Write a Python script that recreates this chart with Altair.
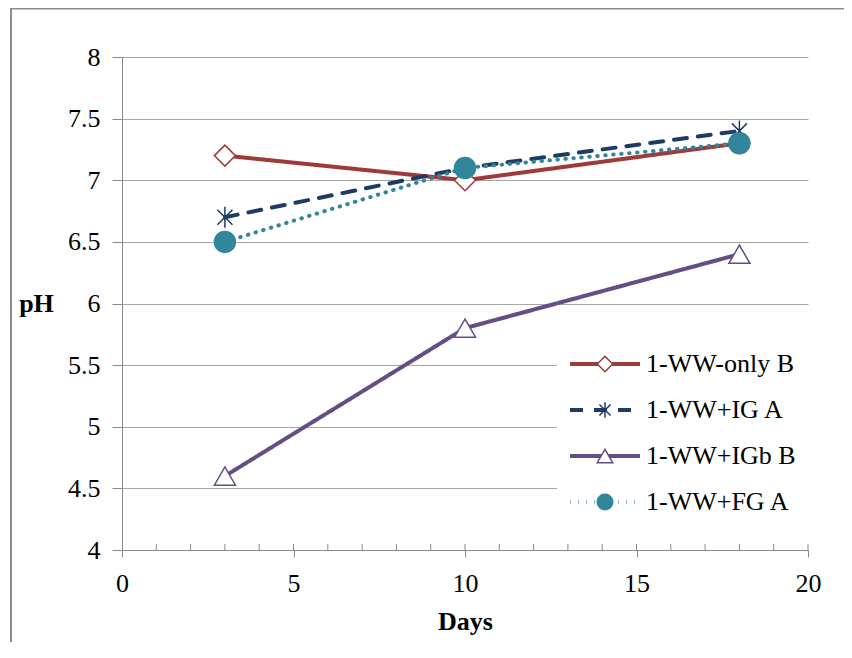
import altair as alt
import pandas as pd

# ---- data ----
days = [3, 10, 18]
series_names = ["1-WW-only B", "1-WW+IG A", "1-WW+IGb B", "1-WW+FG A"]
ph_ww_only = [7.2, 7.0, 7.3]
ph_ww_ig = [6.7, 7.1, 7.4]
ph_ww_igb = [4.6, 5.8, 6.4]
ph_ww_fg = [6.5, 7.1, 7.3]
x_ticks = [0, 5, 10, 15, 20]
x_minor = list(range(1, 21))
y_ticks = [4, 4.5, 5, 5.5, 6, 6.5, 7, 7.5, 8]

# ---- styles ----
FONT = "Liberation Serif"
colors = ["#9E3A38", "#1F3B63", "#654E86", "#31869C"]
fills = ["white", "transparent", "white", "#31869C"]
dashes = [[1, 0], [13, 11], [1, 0], [0.5, 7.5]]
widths = [4, 4, 4, 3.5]
asterisk = "M0,-1L0,1M-0.72,-0.72L0.72,0.72M-0.72,0.72L0.72,-0.72"
shapes = ["diamond", asterisk, "triangle-up", "circle"]
AX = "#898989"
GRID = "#A6A6A6"

rows = []
for name, vals in zip(series_names, [ph_ww_only, ph_ww_ig, ph_ww_igb, ph_ww_fg]):
    for d, v in zip(days, vals):
        rows.append({"day": d, "ph": v, "series": name})
df = pd.DataFrame(rows)
legend_df = pd.DataFrame({"series": series_names})

W, H = 686, 493

x_scale = alt.Scale(domain=[0, 20], nice=False, zero=False)
y_scale = alt.Scale(domain=[4, 8], nice=False, zero=False)
color_scale = alt.Scale(domain=series_names, range=colors)
dash_scale = alt.Scale(domain=series_names, range=dashes)
width_scale = alt.Scale(domain=series_names, range=widths)
shape_scale = alt.Scale(domain=series_names, range=shapes)
fill_scale = alt.Scale(domain=series_names, range=fills)

x_axis = alt.Axis(
    values=x_ticks, grid=False, tickSize=7, tickColor=AX, domainColor=AX,
    labelFont=FONT, labelFontSize=26, labelColor="black", labelPadding=13,
    labelFlush=False, title="Days", titleFont=FONT, titleFontSize=26,
    titleFontWeight="bold", titleColor="black", titleX=343, titleY=79,
    titleBaseline="alphabetic", titleAlign="center",
)
y_axis = alt.Axis(
    values=y_ticks, format="~g", grid=True, gridColor=GRID, tickSize=10, tickColor=AX,
    domainColor=AX, labelFont=FONT, labelFontSize=26, labelColor="black",
    labelPadding=12, labelFlush=False, title="pH", titleAngle=0,
    titleFont=FONT, titleFontSize=26, titleFontWeight="bold", titleColor="black",
    titleX=-86, titleY=254, titleAlign="center", titleBaseline="alphabetic",
)

base = alt.Chart(df)

lines = base.mark_line(strokeCap="round", strokeJoin="round").encode(
    x=alt.X("day:Q", scale=x_scale, axis=x_axis),
    y=alt.Y("ph:Q", scale=y_scale, axis=y_axis),
    color=alt.Color("series:N", scale=color_scale, legend=None),
    strokeDash=alt.StrokeDash("series:N", scale=dash_scale, legend=None),
    strokeWidth=alt.StrokeWidth("series:N", scale=width_scale, legend=None),
)

points = base.mark_point(size=441, strokeWidth=1.5, opacity=1, fillOpacity=1).encode(
    x=alt.X("day:Q", scale=x_scale),
    y=alt.Y("ph:Q", scale=y_scale),
    shape=alt.Shape("series:N", scale=shape_scale, legend=None),
    stroke=alt.Stroke("series:N", scale=color_scale, legend=None),
    fill=alt.Fill("series:N", scale=fill_scale, legend=None),
)

minor = alt.Chart(pd.DataFrame({"v": x_minor})).mark_rule(color=AX, strokeWidth=1).encode(
    x=alt.X("v:Q", scale=x_scale),
    y=alt.value(H - 6),
    y2=alt.value(H),
)

frame = alt.Chart(pd.DataFrame({"a": [0]}))
border_left = frame.mark_rule(color="#8C8C8C", strokeWidth=2).encode(
    x=alt.value(-111), y=alt.value(-49), y2=alt.value(650)
)
border_top = frame.mark_rule(color="#8C8C8C", strokeWidth=2).encode(
    x=alt.value(-112), x2=alt.value(760), y=alt.value(-48.5)
)

main = alt.layer(minor, lines, points, border_left, border_top)

# ---- manual legend (inside the plot, lower right) ----
leg_y = alt.Y("series:N", scale=alt.Scale(type="point", domain=series_names, range=[307, 445], padding=0), axis=None)
leg_base = alt.Chart(legend_df)
leg_box = frame.mark_rect(fill="white", stroke=None if False else "white", strokeWidth=0).encode(
    x=alt.value(435), x2=alt.value(700), y=alt.value(281), y2=alt.value(471)
)
leg_lines = leg_base.mark_rule(strokeCap="butt").encode(
    x=alt.value(448), x2=alt.value(518), y=leg_y,
    color=alt.Color("series:N", scale=color_scale, legend=None),
    strokeDash=alt.StrokeDash("series:N", scale=dash_scale, legend=None),
    strokeWidth=alt.StrokeWidth("series:N", scale=width_scale, legend=None),
)
leg_points = leg_base.mark_point(size=240, strokeWidth=1.5, opacity=1, fillOpacity=1).encode(
    x=alt.value(483), y=leg_y,
    shape=alt.Shape("series:N", scale=shape_scale, legend=None),
    stroke=alt.Stroke("series:N", scale=color_scale, legend=None),
    fill=alt.Fill("series:N", scale=fill_scale, legend=None),
)
leg_text = leg_base.mark_text(align="left", baseline="middle", font=FONT, fontSize=26, color="black").encode(
    x=alt.value(524), y=leg_y, text="series:N"
)
legend = alt.layer(leg_box, leg_lines, leg_points, leg_text)

chart = alt.layer(main, legend).resolve_scale(y="independent").properties(
    width=W, height=H,
    autosize=alt.AutoSizeParams(type="none"),
    padding={"left": 114, "top": 49, "right": 36, "bottom": 92},
    background="white",
).configure_view(strokeWidth=0)

chart.save("out.html", embed_options={"renderer": "svg", "actions": False})
